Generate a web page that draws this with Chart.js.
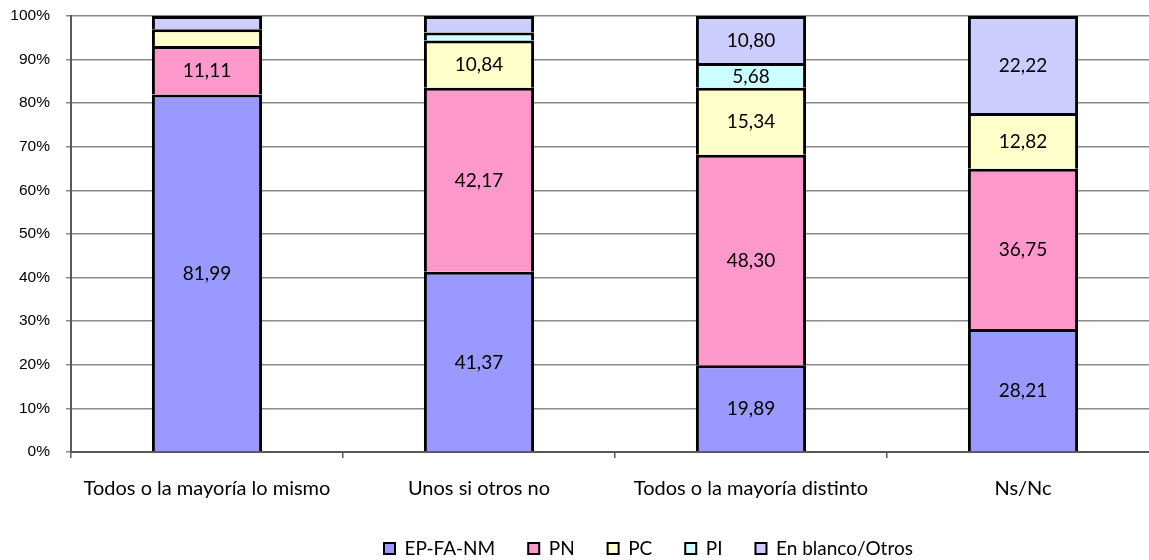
<!DOCTYPE html>
<html>
<head>
<meta charset="utf-8">
<script src="https://cdn.jsdelivr.net/npm/chart.js@4/dist/chart.umd.min.js"></script>
<style>
  html, body { margin: 0; padding: 0; background: #fff; overflow: hidden; }
  #wrap { width: 1252px; height: 560px; }
</style>
</head>
<body>
<div id="wrap"><canvas id="c" width="1252" height="560"></canvas></div>
<script>
// Vote distribution (%) by how the household votes
const categories = ['Todos o la mayoría lo mismo', 'Unos si otros no', 'Todos o la mayoría distinto', 'Ns/Nc'];
const epFaNm   = [81.99, 41.37, 19.89, 28.21];
const pn       = [11.11, 42.17, 48.30, 36.75];
const pc       = [3.88, 10.84, 15.34, 12.82];
const pi       = [0, 1.81, 5.68, 0];
const enBlanco = [3.02, 3.81, 10.80, 22.22];
const seriesNames = ['EP-FA-NM', 'PN', 'PC', 'PI', 'En blanco/Otros'];
const yTickValues = [0, 10, 20, 30, 40, 50, 60, 70, 80, 90, 100];

const colors = ['#9999FF', '#FF99CC', '#FFFFCC', '#CCFFFF', '#CCCCFF'];
const seriesData = [epFaNm, pn, pc, pi, enBlanco];

const LABEL_FONT = 'Lato, "Open Sans", sans-serif';
const fmt = v => v.toFixed(2).replace('.', ',');

// Writes the value inside each segment tall enough to hold it
const segmentLabels = {
  id: 'segmentLabels',
  afterDatasetsDraw(chart) {
    const ctx = chart.ctx;
    ctx.save();
    ctx.font = '19px ' + LABEL_FONT;
    ctx.fillStyle = '#000';
    ctx.textAlign = 'center';
    ctx.textBaseline = 'middle';
    chart.data.datasets.forEach((ds, i) => {
      const meta = chart.getDatasetMeta(i);
      meta.data.forEach((el, j) => {
        const v = ds.data[j];
        if (v >= 5) {
          ctx.fillText(fmt(v), el.x, (el.y + el.base) / 2 + 1);
        }
      });
    });
    ctx.restore();
  }
};

// Places the legend row under the chart, starting at a fixed x
const legendPlacement = {
  id: 'legendPlacement',
  afterLayout(chart) {
    const lg = chart.legend;
    if (!lg || !lg.lineWidths) return;
    const pad = lg.options.labels.padding;
    const startX = 384;
    const top = 506;
    const h = lg.bottom - lg.top;
    lg.left = 0;
    lg.right = 2 * startX - pad + lg.lineWidths[0];
    lg.top = top;
    lg.bottom = top + h;
  }
};

new Chart(document.getElementById('c'), {
  type: 'bar',
  data: {
    labels: categories,
    datasets: seriesData.map((d, i) => ({
      label: seriesNames[i],
      data: d,
      backgroundColor: colors[i],
      borderColor: '#000',
      borderWidth: 3,
      borderSkipped: 'start',
      barPercentage: 0.405,
      categoryPercentage: 1
    }))
  },
  options: {
    responsive: false,
    devicePixelRatio: 1,
    animation: false,
    layout: { padding: { left: 0, right: 93, top: 16, bottom: -24 } },
    plugins: {
      tooltip: { enabled: false },
      legend: {
        position: 'bottom',
        labels: {
          boxWidth: 11,
          boxHeight: 11,
          padding: 33,
          color: '#000',
          font: { family: LABEL_FONT, size: 19 },
          generateLabels(chart) {
            return chart.data.datasets.map((ds, i) => ({
              text: ds.label,
              fillStyle: ds.backgroundColor,
              strokeStyle: '#000',
              lineWidth: 2,
              datasetIndex: i
            }));
          }
        }
      }
    },
    scales: {
      x: {
        stacked: true,
        offset: true,
        afterFit(scale) {
          scale.height = 70;
          scale.paddingLeft = 0;
          scale.paddingRight = 0;
        },
        grid: { display: true, drawOnChartArea: false, offset: true, tickLength: 6, color: '#595959', lineWidth: 1.5 },
        border: { color: '#595959', width: 2 },
        ticks: { color: '#000', padding: 19, font: { family: LABEL_FONT, size: 20 } }
      },
      y: {
        stacked: true,
        min: 0,
        max: 100,
        afterBuildTicks(scale) { scale.ticks = yTickValues.map(v => ({ value: v })); },
        afterFit(scale) {
          scale.width = 71;
          scale.paddingTop = 0;
          scale.paddingBottom = 0;
        },
        grid: { color: '#8a8a8a', lineWidth: 1.5, tickLength: 5 },
        border: { color: '#595959', width: 2 },
        ticks: {
          color: '#000',
          padding: 16,
          font: { family: '"Liberation Sans", Arial, sans-serif', size: 15.5 },
          callback: v => v + '%'
        }
      }
    }
  },
  plugins: [segmentLabels, legendPlacement]
});
</script>
</body>
</html>
